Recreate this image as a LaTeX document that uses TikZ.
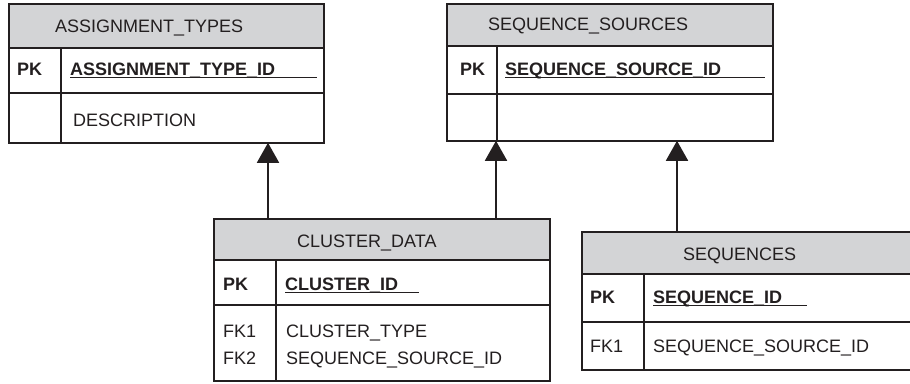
\documentclass[tikz,border=0pt]{standalone}
\usepackage{fontspec}
\setmainfont{Liberation Sans}
\usetikzlibrary{arrows.meta,calc}
\definecolor{headfill}{RGB}{211,212,214}
\definecolor{ink}{RGB}{35,31,32}
\tikzset{
  x=1pt, y=-1pt,
  tablebox/.style={draw=ink, line width=1.8pt, rectangle, inner sep=0pt, anchor=north west},
  headbox/.style={tablebox, fill=headfill},
  rule/.style={draw=ink, line width=1.8pt},
  label/.style={inner sep=0pt, anchor=base west, text=ink, font=\fontsize{18}{18}\selectfont},
  keylabel/.style={label, font=\fontsize{18}{18}\selectfont\bfseries},
  uline/.style={draw=ink, line width=1.4pt},
  fk/.style={draw=ink, line width=1.8pt, -{Triangle[length=20pt,width=22pt]}, shorten >=-1pt},
}
\begin{document}
\begin{tikzpicture}
\clip (0,0) rectangle (910,383);
\fill[white] (0,0) rectangle (910,383);

% ASSIGNMENT_TYPES
\node[headbox, minimum width=315pt, minimum height=44pt] (ath) at (8,3) {};
\node[tablebox, minimum width=315pt, minimum height=139pt] (at) at (8,3) {};
\draw[rule] (8,93) -- (323,93);
\draw[rule] (61,47) -- (61,142);
\node[label] (athl) at (55,32) {ASSIGNMENT\_TYPES};
\node[keylabel] (atpk) at (17,75) {PK};
\node[keylabel] (atid) at (70,75) {ASSIGNMENT\_TYPE\_ID};
\draw[uline] ($(atid.base west)+(0,2.5)$) -- ++(247,0);
\node[label] (atdesc) at (73,126) {DESCRIPTION};

% SEQUENCE_SOURCES
\node[headbox, minimum width=326pt, minimum height=42pt] (ssh) at (446,3) {};
\node[tablebox, minimum width=326pt, minimum height=137pt] (ss) at (446,3) {};
\draw[rule] (446,94) -- (772,94);
\draw[rule] (497,45) -- (497,140);
\node[label] (sshl) at (488,30) {SEQUENCE\_SOURCES};
\node[keylabel] (sspk) at (460,75) {PK};
\node[keylabel] (ssid) at (505,75) {SEQUENCE\_SOURCE\_ID};
\draw[uline] ($(ssid.base west)+(0,2.5)$) -- ++(260,0);

% CLUSTER_DATA
\node[headbox, minimum width=336pt, minimum height=41pt] (cdh) at (213,218) {};
\node[tablebox, minimum width=336pt, minimum height=162pt] (cd) at (213,218) {};
\draw[rule] (213,305) -- (549,305);
\draw[rule] (276,259) -- (276,380);
\node[label] (cdhl) at (297,247) {CLUSTER\_DATA};
\node[keylabel] (cdpk) at (223,290) {PK};
\node[keylabel] (cdid) at (285,290) {CLUSTER\_ID};
\draw[uline] ($(cdid.base west)+(0,2.5)$) -- ++(134,0);
\node[label] (cdfk1) at (223,337) {FK1};
\node[label] (cdfk2) at (223,364) {FK2};
\node[label] (cdtype) at (286,337) {CLUSTER\_TYPE};
\node[label] (cdsrc) at (286,364) {SEQUENCE\_SOURCE\_ID};

% SEQUENCES
\node[headbox, minimum width=334pt, minimum height=42pt] (sqh) at (581,231) {};
\node[tablebox, minimum width=334pt, minimum height=138pt] (sq) at (581,231) {};
\draw[rule] (581,322) -- (915,322);
\draw[rule] (644,273) -- (644,369);
\node[label] (sqhl) at (683,260) {SEQUENCES};
\node[keylabel] (sqpk) at (590,303) {PK};
\node[keylabel] (sqid) at (653,303) {SEQUENCE\_ID};
\draw[uline] ($(sqid.base west)+(0,2.5)$) -- ++(154,0);
\node[label] (sqfk1) at (590,352) {FK1};
\node[label] (sqsrc) at (653,352) {SEQUENCE\_SOURCE\_ID};

% foreign-key references
\coordinate (c1) at (268,218);
\coordinate (c2) at (496,218);
\coordinate (c3) at (677,231);
\draw[fk] (c1) -- (c1 |- at.south);
\draw[fk] (c2) -- (c2 |- ss.south);
\draw[fk] (c3) -- (c3 |- ss.south);
\end{tikzpicture}
\end{document}
